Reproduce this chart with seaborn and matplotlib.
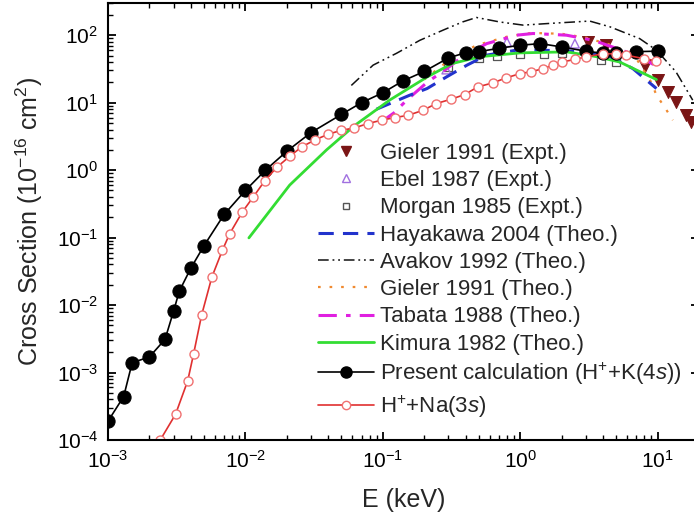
import numpy as np
import pandas as pd
import matplotlib
matplotlib.use("Agg")
import matplotlib.pyplot as plt
from matplotlib.lines import Line2D
import seaborn as sns

# ---------------- data ----------------
E_pres = [0.001, 0.0013, 0.0015, 0.002, 0.0026, 0.003, 0.0033, 0.004, 0.005, 0.007,
          0.01, 0.014, 0.02, 0.03, 0.05, 0.07, 0.1, 0.14, 0.2, 0.3, 0.4, 0.5, 0.7,
          1.0, 1.4, 2.0, 3.0, 4.0, 5.0, 7.0, 10.0]
S_pres = [1.9e-4, 4.4e-4, 1.4e-3, 1.7e-3, 3.1e-3, 8.1e-3, 1.6e-2, 3.5e-2, 7.6e-2, 0.22,
          0.5, 1.0, 1.9, 3.6, 6.7, 10, 14, 21, 29, 46, 55, 57, 64,
          71, 75, 67, 58, 54, 54, 57, 58]

E_na = [0.0024, 0.0031, 0.0038, 0.0042, 0.0048, 0.0057, 0.0068, 0.0077, 0.0095, 0.0114,
        0.0138, 0.0169, 0.021, 0.0256, 0.032, 0.040, 0.050, 0.0615, 0.078, 0.098,
        0.122, 0.153, 0.196, 0.245, 0.316, 0.395, 0.49, 0.63, 0.79, 1.0,
        1.2, 1.47, 1.73, 2.0, 2.5, 3.0, 4.0, 5.0, 5.9, 7.9, 9.8]
S_na = [1.0e-4, 2.4e-4, 7.5e-4, 1.9e-3, 7.1e-3, 2.6e-2, 6.5e-2, 0.115, 0.24, 0.40,
        0.69, 1.1, 1.6, 2.2, 2.8, 3.4, 3.9, 4.2, 4.9, 5.5,
        6.0, 6.5, 7.7, 9.7, 11.3, 13.2, 17.1, 19.6, 23.3, 27,
        28.7, 32, 36, 40, 43.7, 47.7, 53, 53, 50.6, 45, 41.6]

E_gieler_exp = [3.1, 4.2, 8.1, 10, 11.8, 13.6, 16, 17.6]
S_gieler_exp = [79, 71, 35, 21.5, 14.4, 10.3, 6.5, 5.2]

E_ebel = [0.29, 0.8, 2.5]
S_ebel = [31, 79, 75]

E_morgan = [0.3, 0.5, 0.68, 1.0, 1.5, 2.0, 3.9, 5.0]
S_morgan = [34, 46, 50, 52, 52, 54, 43, 40]

E_haya = [0.09, 0.157, 0.21, 0.29, 0.41, 0.57, 0.94, 1.24, 2.0, 2.9, 4.5, 6.6, 9.8]
S_haya = [8.0, 12.9, 16.2, 24, 36, 50.6, 60, 60, 59, 56.6, 48, 32, 16.2]

E_avakov = [0.059, 0.085, 0.126, 0.186, 0.275, 0.38, 0.48, 0.71, 1.05, 1.6, 3.2, 4.5,
            7.4, 9.8, 13.6, 18]
S_avakov = [18, 36, 54, 84, 119, 157, 183, 157, 141, 149, 162, 133,
            89, 60, 28.6, 10.9]

E_gieler_th = [0.2, 0.3, 0.48, 0.8, 1.2, 2.0, 3.0, 5.0, 7.0, 9.0, 9.8, 11.2, 12.9]
S_gieler_th = [22, 42, 71, 95, 108, 105, 92, 68, 45, 20, 12.9, 8.7, 5.5]

E_tabata = [0.095, 0.12, 0.15, 0.21, 0.28, 0.38, 0.57, 0.94, 1.24, 2.17, 3.4, 5.0, 7.4, 9.5]
S_tabata = [5.0, 7.0, 11, 20, 30, 48, 75, 100, 106, 100, 84, 64, 48, 36]

E_kimura = [0.0106, 0.021, 0.039, 0.0625, 0.112, 0.21, 0.32, 0.51, 1.0, 2.17, 3.6, 5.3, 9.8]
S_kimura = [0.099, 0.6, 2.0, 4.6, 10.9, 24, 38, 48, 54.7, 56.6, 48, 40, 22]

labels = ["Gieler 1991 (Expt.)", "Ebel 1987 (Expt.)", "Morgan 1985 (Expt.)",
          "Hayakawa 2004 (Theo.)", "Avakov 1992 (Theo.)", "Gieler 1991 (Theo.)",
          "Tabata 1988 (Theo.)", "Kimura 1982 (Theo.)",
          "Present calculation (H$^{+}$+K(4$s$))", "H$^{+}$+Na(3$s$)"]

# ---------------- style ----------------
sns.set_style("ticks")
plt.rcParams["font.family"] = ["Liberation Sans", "DejaVu Sans"]
plt.rcParams["mathtext.fontset"] = "custom"
plt.rcParams["mathtext.rm"] = "Liberation Sans"
plt.rcParams["mathtext.it"] = "Liberation Sans:italic"
plt.rcParams["mathtext.bf"] = "Liberation Sans:bold"

c_gieler = "#7a1515"
c_ebel = "#a070e0"
c_morgan = "#555555"
c_haya = "#2233cc"
c_avakov = "#111111"
c_gth = "#f08a30"
c_tab = "#e020e0"
c_kim = "#33dd33"
c_red = "#e03030"

fig = plt.figure(figsize=(6.94, 5.24), dpi=100)
ax = fig.add_axes([108 / 694, 84 / 524, 591 / 694, 437 / 524])
ax.set_xscale("log")
ax.set_yscale("log")

def line(x, y, **kw):
    df = pd.DataFrame({"E": x, "S": y})
    sns.lineplot(data=df, x="E", y="S", ax=ax, estimator=None, sort=False, legend=False, **kw)

ls_avakov = (0, (7, 2.5, 1.2, 2.5, 1.2, 2.5))
ls_gth = (0, (1.2, 4))
ls_tab = (0, (6, 3, 1.5, 3))
ls_haya = (0, (5, 3))

line(E_avakov, S_avakov, color=c_avakov, lw=1.1, linestyle=ls_avakov)
line(E_gieler_th, S_gieler_th, color=c_gth, lw=1.6, linestyle=ls_gth)
line(E_tabata, S_tabata, color=c_tab, lw=2.2, linestyle=ls_tab)
line(E_haya, S_haya, color=c_haya, lw=2.2, linestyle=ls_haya)
line(E_kimura, S_kimura, color=c_kim, lw=2.0)

line(E_pres, S_pres, color="black", lw=1.2, marker="o", markersize=9.5,
     markerfacecolor="black", markeredgecolor="black")
line(E_na, S_na, color=c_red, lw=1.2, marker="o", markersize=6.5,
     markerfacecolor="white", markeredgecolor="#f07070", markeredgewidth=1.0)

def pts(x, y, **kw):
    df = pd.DataFrame({"E": x, "S": y})
    sns.scatterplot(data=df, x="E", y="S", ax=ax, legend=False, **kw)

pts(E_morgan, S_morgan, marker="s", s=28, facecolor="white", edgecolor=c_morgan, linewidth=0.9)
pts(E_ebel, S_ebel, marker="^", s=40, facecolor="none", edgecolor=c_ebel, linewidth=1.0)
pts(E_gieler_exp, S_gieler_exp, marker="v", s=75, color=c_gieler, edgecolor=c_gieler)

ax.set_xlim(1e-3, 20)
ax.set_ylim(1e-4, 300)

for s in ax.spines.values():
    s.set_linewidth(1.5)
    s.set_color("black")
ax.tick_params(which="both", direction="in", top=True, right=True, colors="black")
ax.tick_params(which="major", length=6, width=1.3, labelsize=15, pad=7)
ax.tick_params(which="minor", length=3.5, width=1.0)

ax.set_xlabel("E (keV)", fontsize=18, labelpad=12)
ax.set_ylabel("Cross Section (10$^{-16}$ cm$^{2}$)", fontsize=18, labelpad=8)

handles = [
    Line2D([], [], linestyle="none", marker="v", markersize=7, color=c_gieler),
    Line2D([], [], linestyle="none", marker="^", markersize=6, markerfacecolor="none",
           markeredgecolor=c_ebel),
    Line2D([], [], linestyle="none", marker="s", markersize=5, markerfacecolor="white",
           markeredgecolor=c_morgan),
    Line2D([], [], color=c_haya, lw=2.2, linestyle=ls_haya),
    Line2D([], [], color=c_avakov, lw=1.1, linestyle=ls_avakov),
    Line2D([], [], color=c_gth, lw=1.6, linestyle=ls_gth),
    Line2D([], [], color=c_tab, lw=2.2, linestyle=ls_tab),
    Line2D([], [], color=c_kim, lw=2.0),
    Line2D([], [], color="black", lw=1.2, marker="o", markersize=8),
    Line2D([], [], color=c_red, lw=1.2, marker="o", markersize=6,
           markerfacecolor="white", markeredgecolor="#f07070"),
]
leg = ax.legend(handles, labels, loc="upper left", bbox_to_anchor=(318 / 694, 1 - 143 / 524),
                bbox_transform=fig.transFigure, frameon=False, fontsize=16,
                borderpad=0, borderaxespad=0, labelspacing=0.28, handlelength=2.5,
                handletextpad=0.3, markerscale=1.0)

fig.savefig("out.png", dpi=100)
